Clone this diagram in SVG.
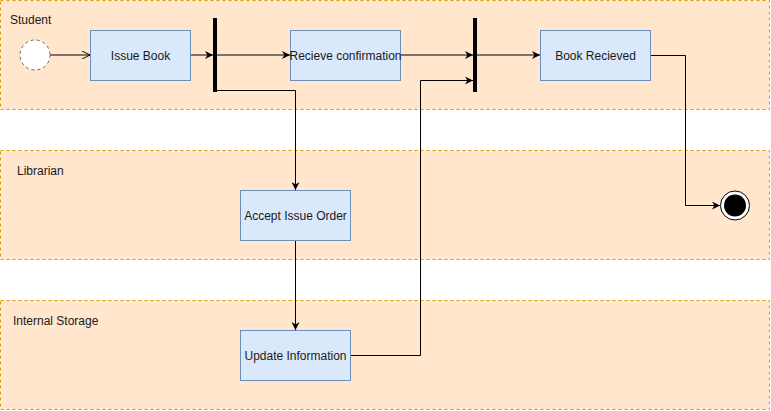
<svg xmlns="http://www.w3.org/2000/svg" width="771" height="411" viewBox="0 0 771 411">
<defs>
<style>
.lane{fill:#ffe6cc;stroke:#d79b00;stroke-dasharray:3 3;stroke-width:1}
.box{fill:#dae8fc;stroke:#6c8ebf;stroke-width:1}
.t{font-family:"Liberation Sans",Arial,sans-serif;font-size:12px;fill:#1a1a1a}
.c{text-anchor:middle}
.edge{fill:none;stroke:#000;stroke-width:1}
.bar{fill:#000}
</style>
<marker id="ah" viewBox="0 0 10 10" refX="10" refY="5" markerWidth="8" markerHeight="8" markerUnits="userSpaceOnUse" orient="auto">
<path d="M0,0 L10,5 L0,10 L3,5 Z" fill="#000"/>
</marker>
<marker id="open" viewBox="0 0 10 10" refX="10" refY="5" markerWidth="8" markerHeight="8" markerUnits="userSpaceOnUse" orient="auto">
<path d="M0,0 L10,5 L0,10" fill="none" stroke="#000" stroke-width="1.2"/>
</marker>
</defs>
<g id="lane-student"><rect class="lane" x="0.5" y="0.5" width="769" height="109"/><text class="t" x="10" y="24">Student</text></g>
<g id="lane-librarian"><rect class="lane" x="0.5" y="150.5" width="769" height="109"/><text class="t" x="17" y="175">Librarian</text></g>
<g id="lane-storage"><rect class="lane" x="0.5" y="300.5" width="769" height="109"/><text class="t" x="13" y="325">Internal Storage</text></g>
<g id="edges">
<path class="edge" d="M50,55 H90" marker-end="url(#open)"/>
<path class="edge" d="M190,55 H213" marker-end="url(#ah)"/>
<path class="edge" d="M217,55 H290" marker-end="url(#ah)"/>
<path class="edge" d="M217,90.5 H295.5 V190" marker-end="url(#ah)"/>
<path class="edge" d="M295.5,240 V330" marker-end="url(#ah)"/>
<path class="edge" d="M350,355.5 H420.5 V80.5 H473" marker-end="url(#ah)"/>
<path class="edge" d="M400,55 H473" marker-end="url(#ah)"/>
<path class="edge" d="M477,55 H540" marker-end="url(#ah)"/>
<path class="edge" d="M650,55.5 H685.5 V205.5 H720" marker-end="url(#ah)"/>
</g>
<g id="start"><circle cx="35" cy="55" r="15" fill="#fff" stroke="#666" stroke-dasharray="3 3"/></g>
<g id="issue-book"><rect class="box" x="90.5" y="30.5" width="100" height="50"/><text class="t c" x="140.5" y="60">Issue Book</text></g>
<g id="fork"><rect class="bar" x="213" y="18" width="4" height="74"/></g>
<g id="recieve"><rect class="box" x="290.5" y="30.5" width="110" height="50"/><text class="t c" x="345.5" y="60">Recieve confirmation</text></g>
<g id="join"><rect class="bar" x="473" y="18" width="4" height="74"/></g>
<g id="book-recieved"><rect class="box" x="540.5" y="30.5" width="110" height="50"/><text class="t c" x="595.5" y="60">Book Recieved</text></g>
<g id="accept"><rect class="box" x="240.5" y="190.5" width="110" height="50"/><text class="t c" x="295.5" y="220">Accept Issue Order</text></g>
<g id="update"><rect class="box" x="240.5" y="330.5" width="110" height="50"/><text class="t c" x="295.5" y="360">Update Information</text></g>
<g id="end"><circle cx="735" cy="205.5" r="14.5" fill="#fff" stroke="#000"/><circle cx="735" cy="205.5" r="11" fill="#000"/></g>
</svg>
